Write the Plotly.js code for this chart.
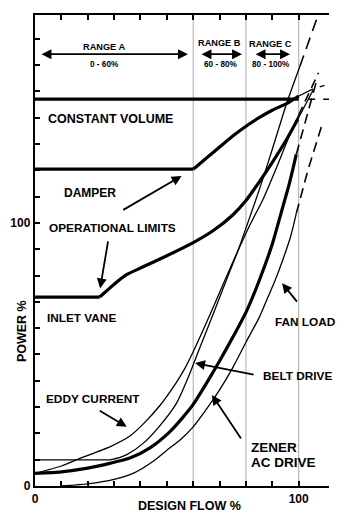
<!DOCTYPE html>
<html>
<head>
<meta charset="utf-8">
<script src="https://cdn.plot.ly/plotly-3.0.1.min.js"></script>
<style>html,body{margin:0;padding:0;background:#fff;}#chart{width:360px;height:515px;}</style>
</head>
<body>
<div id="chart"></div>
<script>
// ---- data (design flow %, power %) ----
const constVolX = [0, 100];
const constVolY = [147, 147];
const constVolExtX = [103.6, 111.5];
const constVolExtY = [147, 147];

const damperX = [0, 60, 62.5, 65.5, 70, 75, 80.7, 85, 90, 95.8, 100];
const damperY = [120.4, 120.4, 122.5, 125, 128.8, 133, 137.2, 140, 142.8, 145.5, 148.2];
const damperExtX = [100, 105.3, 110.5];
const damperExtY = [148.2, 150.8, 152.5];

const inletX = [0, 24.5, 27, 29.7, 34.7, 41, 50, 60, 67.5, 75, 80, 85, 90, 95, 99.7];
const inletY = [71.8, 71.8, 74, 76.4, 80.3, 83.3, 87.5, 92.5, 97, 103, 108.5, 115.5, 123, 131, 139.5];
const inletExtX = [99.7, 105.5];
const inletExtY = [139.5, 150.5];

const eddyX = [0, 10, 17, 28.4, 36, 41, 47.3, 53.7, 57, 60, 65, 70, 75, 81.4, 86.5, 92, 96, 100];
const eddyY = [4.8, 7.6, 10.5, 14.9, 19, 23.5, 30.5, 39.5, 45, 51, 62, 73.5, 85, 99, 109, 122, 132, 141];
const eddyExtX = [100, 107.5];
const eddyExtY = [141, 157];

const beltX = [0, 28.4, 32, 35, 41, 47, 53.7, 58, 62.5, 68.8, 72.6, 77, 81.4, 85.2, 90, 95.3, 100.4];
const beltY = [9.9, 9.9, 10.8, 12, 16.2, 22.5, 31.5, 41, 52.5, 68.5, 78.3, 89.5, 102, 113, 128, 145, 159.3];
const beltExtX = [100.4, 107.2];
const beltExtY = [159.3, 178.5];

const zenerX = [0, 10, 20, 28.4, 36, 43.6, 51, 56, 60, 65, 70, 75, 80, 85, 90, 93.4, 96.6, 99.1];
const zenerY = [4.8, 5.4, 6.8, 8.6, 10.6, 14.5, 20.5, 26, 31, 39, 47.5, 56.5, 66, 78, 92, 104, 115.5, 126];
const zenerExtX = [99.1, 104.8, 106.8];
const zenerExtY = [126, 146.7, 154];

const fanX = [10, 20, 30, 37.2, 45, 49.9, 55, 60, 66.3, 70, 75, 80.2, 85, 88, 91, 94, 97, 99.1];
const fanY = [0, 0.8, 2.5, 4.8, 9.5, 13.5, 17.5, 22.5, 31, 36.5, 45, 55, 64, 71, 78, 86, 95, 103.6];
const fanExtX = [99.1, 103.5, 108.6];
const fanExtY = [103.6, 120, 136.5];

const rangeLines = [60, 80, 100];
const xTickVals = [0, 10, 20, 30, 40, 50, 60, 70, 80, 90, 100];
const xTickText = ['0', '', '', '', '', '', '', '', '', '', '100'];
const yTickVals = [0, 10, 20, 30, 40, 50, 60, 70, 80, 90, 100, 110, 120, 130, 140, 150, 160, 170];
const yTickText = ['0', '', '', '', '', '', '', '', '', '', '100', '', '', '', '', '', '', ''];

// ---- traces ----
const THICK = 3.2, THIN = 1.3, DASHW = 1.6;
function line(x, y, w, dash) {
  return {x: x, y: y, type: 'scatter', mode: 'lines', hoverinfo: 'skip',
          line: {color: '#000', width: w, dash: dash || 'solid', shape: 'spline', smoothing: 0.6}};
}
function straight(x, y, w, dash) {
  return {x: x, y: y, type: 'scatter', mode: 'lines', hoverinfo: 'skip',
          line: {color: '#000', width: w, dash: dash || 'solid'}};
}
const traces = [
  straight(constVolX, constVolY, THICK),
  straight(constVolExtX, constVolExtY, DASHW, '7px,8px'),
  straight(damperX.slice(0, 2), damperY.slice(0, 2), THICK),
  line(damperX.slice(1), damperY.slice(1), THICK),
  straight(damperExtX, damperExtY, THIN, '16px,7px,5px,7px'),
  straight(inletX.slice(0, 2), inletY.slice(0, 2), THICK),
  line(inletX.slice(1), inletY.slice(1), THICK),
  straight(inletExtX, inletExtY, THIN),
  line(eddyX, eddyY, THIN),
  straight(eddyExtX, eddyExtY, DASHW, '9px,6px'),
  straight(beltX.slice(0, 2), beltY.slice(0, 2), THIN),
  line(beltX.slice(1), beltY.slice(1), THIN),
  straight(beltExtX, beltExtY, DASHW, '12px,7px'),
  line(zenerX, zenerY, THICK),
  straight(zenerExtX, zenerExtY, DASHW, '10px,6px'),
  line(fanX, fanY, THIN),
  straight(fanExtX, fanExtY, DASHW, '10px,6px')
];

// ---- annotations ----
const F = 'Liberation Sans, Arial, sans-serif';
function txt(x, y, t, size, xanchor) {
  return {x: x, y: y, xref: 'x', yref: 'y', text: '<b>' + t + '</b>', showarrow: false,
          xanchor: xanchor || 'center', yanchor: 'middle', align: 'left',
          font: {family: F, size: size, color: '#000'}};
}
function ptxt(x, y, t, size, angle) {
  return {x: x, y: y, xref: 'paper', yref: 'paper', text: '<b>' + t + '</b>', showarrow: false,
          xanchor: 'center', yanchor: 'middle', textangle: angle || 0,
          font: {family: F, size: size, color: '#000'}};
}
function arrow(tx, ty, hx, hy, both) {
  return {x: hx, y: hy, ax: tx, ay: ty, xref: 'x', yref: 'y', axref: 'x', ayref: 'y',
          text: '', showarrow: true, arrowhead: 2, arrowsize: 1.1, arrowwidth: 1.8,
          arrowcolor: '#000', arrowside: both ? 'end+start' : 'end', standoff: 0, startstandoff: 0};
}
const annotations = [
  txt(26.2, 167, 'RANGE A', 9.2),
  txt(26.2, 160.3, '0 - 60%', 8.2),
  txt(69.8, 168.2, 'RANGE B', 9.2),
  txt(70.2, 160, '60 - 80%', 8.2),
  txt(89.4, 168, 'RANGE C', 9.2),
  txt(89.6, 160, '80 - 100%', 8.2),
  arrow(1.9, 164.1, 58, 164.1, true),
  arrow(62.6, 164.1, 78.5, 164.1, true),
  arrow(83.1, 164.1, 96.7, 164.1, true),
  txt(28.8, 139.4, 'CONSTANT VOLUME', 12.5),
  txt(20.8, 111.3, 'DAMPER', 12),
  txt(29.4, 98, 'OPERATIONAL LIMITS', 11.8),
  arrow(32.9, 104.6, 55.6, 117.8),
  arrow(27.8, 93.5, 24.7, 75.1),
  txt(17.7, 63.7, 'INLET VANE', 11.8),
  txt(102.7, 62.4, 'FAN LOAD', 11.8),
  arrow(99.8, 69.5, 93.7, 77.1),
  txt(99.6, 41.8, 'BELT DRIVE', 11.8),
  arrow(83.5, 42.2, 60.7, 46.7),
  txt(22, 32.9, 'EDDY CURRENT', 11.8),
  arrow(24, 28.9, 34.8, 22.5),
  txt(81.1, 14.8, 'ZENER', 13.5, 'left'),
  txt(81.1, 8.9, 'AC DRIVE', 13.5, 'left'),
  arrow(78.5, 17.5, 67.1, 34.6),
  ptxt(-0.044, 0.329, 'POWER %', 12.5, -90),
  ptxt(0.527, -0.042, 'DESIGN FLOW %', 12.5, 0)
];

const shapes = rangeLines.map(function (v) {
  return {type: 'line', xref: 'x', yref: 'paper', x0: v, x1: v, y0: 0, y1: 1,
          line: {color: '#aaaaaa', width: 1}, layer: 'below'};
});

const layout = {
  width: 360, height: 515,
  margin: {l: 35, r: 31, t: 15, b: 29},
  paper_bgcolor: '#fff', plot_bgcolor: '#fff',
  showlegend: false,
  font: {family: F, color: '#000'},
  xaxis: {
    range: [0, 111.5], showgrid: false, zeroline: false,
    showline: true, linecolor: '#000', linewidth: 2.2, mirror: 'ticks',
    ticks: 'inside', ticklen: 5, tickwidth: 2, tickcolor: '#000',
    tickvals: xTickVals, ticktext: xTickText,
    tickfont: {family: F, size: 12, weight: 'bold'}
  },
  yaxis: {
    range: [0, 179], showgrid: false, zeroline: false,
    showline: true, linecolor: '#000', linewidth: 2.2,
    ticks: 'inside', ticklen: 5, tickwidth: 2, tickcolor: '#000',
    tickvals: yTickVals, ticktext: yTickText,
    tickfont: {family: F, size: 12, weight: 'bold'}
  },
  annotations: annotations,
  shapes: shapes
};

Plotly.newPlot('chart', traces, layout, {displayModeBar: false, staticPlot: true});
</script>
</body>
</html>
